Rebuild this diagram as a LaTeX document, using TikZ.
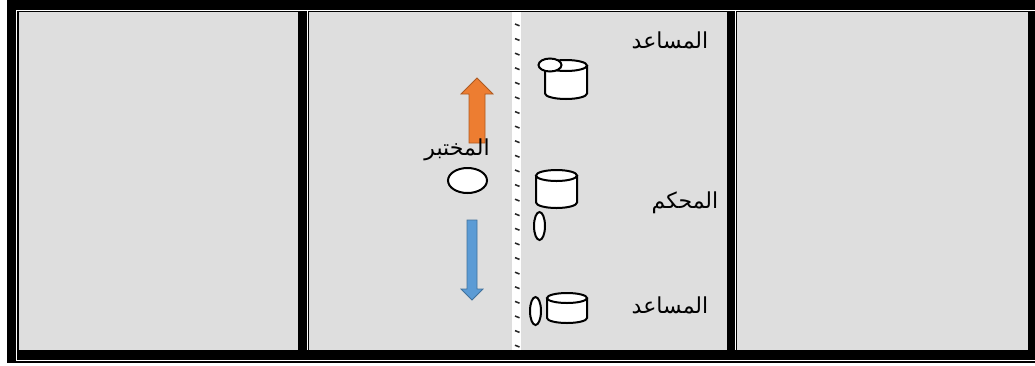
\documentclass[tikz,border=0pt]{standalone}
\usepackage{fontspec}
\newfontfamily\arabicfont[Script=Arabic]{DejaVu Sans}
\TeXXeTstate=1
\usetikzlibrary{shapes.geometric}
\definecolor{cellgray}{RGB}{222,222,222}
\definecolor{orangefill}{RGB}{237,125,49}
\definecolor{orangeline}{RGB}{174,90,33}
\definecolor{bluefill}{RGB}{91,155,213}
\definecolor{blueline}{RGB}{65,113,156}
\tikzset{
  cell/.style={fill=cellgray},
  sepline/.style={white, line width=1pt},
  oval/.style={ellipse, draw=black, line width=2pt, fill=white, inner sep=0pt},
  lbl/.style={font=\arabicfont\fontsize{22}{26}\selectfont, inner sep=0pt, text=black},
  tick/.style={line width=1.5pt, black!85},
}
\begin{document}
\begin{tikzpicture}[x=1pt, y=-1pt]
\useasboundingbox (0,0) rectangle (1035,365);
% frame
\fill[black] (7,0) rectangle (1035,363);
\draw[sepline] (1035,10.5) -- (16.5,10.5) -- (16.5,360.5) -- (1035,360.5);
\draw[sepline] (307.5,10.5) -- (307.5,350);
\draw[sepline] (735.5,10.5) -- (735.5,350);
% cells
\fill[cell] (19,12) rectangle (298,350);
\fill[cell] (309,12) rectangle (727,350);
\fill[cell] (737,12) rectangle (1028,350);
% divider strip
\fill[white] (512,12) rectangle (521,350);
\foreach \k in {0,...,22} {
  \draw[tick] (515,{24+14.6*\k}) -- (519.5,{25.8+14.6*\k});
}
% arrows
\draw[fill=orangefill, draw=orangeline, line width=0.8pt]
  (477,78) -- (493,94) -- (485,94) -- (485,143) -- (469,143) -- (469,94) -- (461,94) -- cycle;
\draw[fill=bluefill, draw=blueline, line width=0.8pt]
  (467,220) -- (477,220) -- (477,289) -- (483,289) -- (472,300) -- (461,289) -- (467,289) -- cycle;
% cylinders
\foreach \cx/\rx/\ry/\yt/\yb in {566/21/5.5/65.5/93.5, 556.5/20.5/5.5/175.5/202.5, 567/20/5/298/318} {
  \path[fill=white] (\cx-\rx,\yt) -- (\cx-\rx,\yb) arc (180:360:\rx pt and \ry pt) -- (\cx+\rx,\yt) arc (0:180:\rx pt and \ry pt) -- cycle;
  \draw[line width=2pt] (\cx-\rx,\yt) -- (\cx-\rx,\yb) arc (180:360:\rx pt and \ry pt) -- (\cx+\rx,\yt);
  \draw[line width=2pt] (\cx,\yt) ellipse (\rx pt and \ry pt);
}
% ovals
\node[oval, minimum width=23pt, minimum height=13pt] (capTop) at (550,65) {};
\node[oval, minimum width=39pt, minimum height=25pt] (tester) at (467.5,180.5) {};
\node[oval, minimum width=11pt, minimum height=28pt] (ovMid) at (539.5,226) {};
\node[oval, minimum width=11pt, minimum height=28pt] (ovBot) at (535.5,311) {};
% labels
\node[lbl] (assist1) at (670,40) {\beginR المساعد\endR};
\node[lbl] (judge) at (685,203) {\beginR المحكم\endR};
\node[lbl] (assist2) at (670,305) {\beginR المساعد\endR};
\node[lbl] (testerlbl) at (457,150) {\beginR المختبر\endR};
\end{tikzpicture}
\end{document}
